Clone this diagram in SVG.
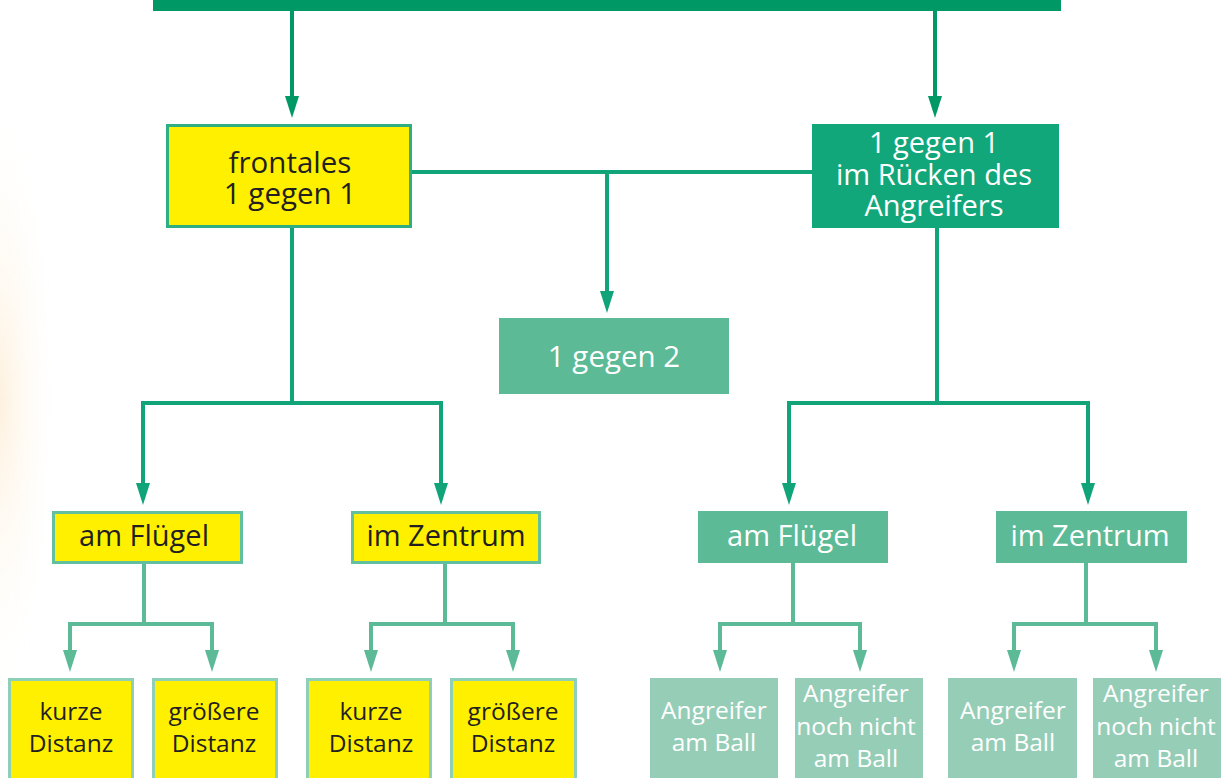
<svg xmlns="http://www.w3.org/2000/svg" width="1226" height="778" viewBox="0 0 1226 778">
<defs>
<style>
.t{font-family:"Open Sans","Noto Sans",sans-serif;text-anchor:middle}
.dk{fill:#231f20}
.wh{fill:#ffffff}
.c1{fill:none;stroke:#12a479;stroke-width:4}
.c2{fill:none;stroke:#5dba97;stroke-width:4}
.y1{fill:#fff000;stroke:#2fae83;stroke-width:3}
.y2{fill:#fff000;stroke:#63c09e;stroke-width:3}
.y3{fill:#fff000;stroke:#8fcfb8;stroke-width:3}
</style>
<marker id="a1" markerUnits="userSpaceOnUse" markerWidth="24" markerHeight="14" refX="0" refY="7" orient="auto" viewBox="0 0 24 14"><path d="M0,0 L22,7 L0,14 z" fill="#12a479"/></marker>
<marker id="a0" markerUnits="userSpaceOnUse" markerWidth="24" markerHeight="14" refX="0" refY="7" orient="auto" viewBox="0 0 24 14"><path d="M0,0 L22,7 L0,14 z" fill="#009966"/></marker>
<marker id="a2" markerUnits="userSpaceOnUse" markerWidth="24" markerHeight="14" refX="0" refY="7" orient="auto" viewBox="0 0 24 14"><path d="M0,0 L22,7 L0,14 z" fill="#5dba97"/></marker>
<radialGradient id="glow" cx="0" cy="0.5" r="0.5">
<stop offset="0" stop-color="#fde6c4" stop-opacity="0.55"/>
<stop offset="1" stop-color="#ffffff" stop-opacity="0"/>
</radialGradient>
</defs>
<rect width="1226" height="778" fill="#ffffff"/>
<rect x="0" y="80" width="120" height="640" fill="url(#glow)"/>
<rect x="153" y="0" width="908" height="11" fill="#009966"/>
<g id="connectors">
<path class="c1" style="stroke:#009966" d="M292,11 V96" marker-end="url(#a0)"/>
<path class="c1" style="stroke:#009966" d="M935,11 V96" marker-end="url(#a0)"/>
<path class="c1" d="M411,172 H812"/>
<path class="c1" d="M607,172 V291" marker-end="url(#a1)"/>
<path class="c1" d="M292,227 V403"/>
<path class="c1" d="M141,403 H443"/>
<path class="c1" d="M143,401 V483" marker-end="url(#a1)"/>
<path class="c1" d="M441,401 V483" marker-end="url(#a1)"/>
<path class="c1" d="M937,228 V403"/>
<path class="c1" d="M787,403 H1090"/>
<path class="c1" d="M789,401 V483" marker-end="url(#a1)"/>
<path class="c1" d="M1088,401 V483" marker-end="url(#a1)"/>
<path class="c2" d="M144,563 V624"/>
<path class="c2" d="M68,624 H214"/>
<path class="c2" d="M70,622 V650" marker-end="url(#a2)"/>
<path class="c2" d="M212,622 V650" marker-end="url(#a2)"/>
<path class="c2" d="M445,563 V624"/>
<path class="c2" d="M369,624 H515"/>
<path class="c2" d="M371,622 V650" marker-end="url(#a2)"/>
<path class="c2" d="M513,622 V650" marker-end="url(#a2)"/>
<path class="c2" d="M793,563 V624"/>
<path class="c2" d="M718,624 H862"/>
<path class="c2" d="M720,622 V650" marker-end="url(#a2)"/>
<path class="c2" d="M860,622 V650" marker-end="url(#a2)"/>
<path class="c2" d="M1086,563 V624"/>
<path class="c2" d="M1012,624 H1158"/>
<path class="c2" d="M1014,622 V650" marker-end="url(#a2)"/>
<path class="c2" d="M1156,622 V650" marker-end="url(#a2)"/>
</g>
<g id="frontales">
<rect class="y1" x="167.5" y="125.5" width="243" height="101"/>
<text class="t dk" font-size="29.5" x="290" y="173">frontales</text>
<text class="t dk" font-size="29.5" x="290" y="204">1 gegen 1</text>
</g>
<g id="ruecken">
<rect x="812" y="124" width="247" height="104" fill="#12a77b"/>
<text class="t wh" font-size="29" x="934" y="153">1 gegen 1</text>
<text class="t wh" font-size="29" x="934" y="185">im Rücken des</text>
<text class="t wh" font-size="29" x="934" y="216">Angreifers</text>
</g>
<g id="gegen2">
<rect x="499" y="318" width="230" height="76" fill="#5cba96"/>
<text class="t wh" font-size="29.5" x="614" y="367">1 gegen 2</text>
</g>
<g id="fluegel-l">
<rect class="y2" x="53.5" y="512.5" width="188" height="50"/>
<text class="t dk" font-size="29" x="144" y="546">am Flügel</text>
</g>
<g id="zentrum-l">
<rect class="y2" x="352.5" y="512.5" width="187" height="50"/>
<text class="t dk" font-size="29" x="446" y="546">im Zentrum</text>
</g>
<g id="fluegel-r">
<rect x="698" y="511" width="190" height="52" fill="#5cba96"/>
<text class="t wh" font-size="29" x="792" y="546">am Flügel</text>
</g>
<g id="zentrum-r">
<rect x="996" y="511" width="191" height="52" fill="#5cba96"/>
<text class="t wh" font-size="29" x="1090" y="546">im Zentrum</text>
</g>
<g id="kurze1">
<rect class="y3" x="9.5" y="679.5" width="123" height="100"/>
<text class="t dk" font-size="24.5" x="71" y="720">kurze</text>
<text class="t dk" font-size="24.5" x="71" y="752">Distanz</text>
</g>
<g id="groessere1">
<rect class="y3" x="153.5" y="679.5" width="123" height="100"/>
<text class="t dk" font-size="24.5" x="214" y="720">größere</text>
<text class="t dk" font-size="24.5" x="214" y="752">Distanz</text>
</g>
<g id="kurze2">
<rect class="y3" x="307.5" y="679.5" width="123" height="100"/>
<text class="t dk" font-size="24.5" x="371" y="720">kurze</text>
<text class="t dk" font-size="24.5" x="371" y="752">Distanz</text>
</g>
<g id="groessere2">
<rect class="y3" x="451.5" y="679.5" width="124" height="100"/>
<text class="t dk" font-size="24.5" x="513" y="720">größere</text>
<text class="t dk" font-size="24.5" x="513" y="752">Distanz</text>
</g>
<g id="amball1">
<rect x="650" y="678" width="128" height="100" fill="#96cdb7"/>
<text class="t wh" font-size="24.5" x="714" y="719">Angreifer</text>
<text class="t wh" font-size="24.5" x="714" y="751">am Ball</text>
</g>
<g id="nichtball1">
<rect x="795" y="678" width="128" height="100" fill="#96cdb7"/>
<text class="t wh" font-size="24.5" x="856" y="702">Angreifer</text>
<text class="t wh" font-size="24.5" x="856" y="735">noch nicht</text>
<text class="t wh" font-size="24.5" x="856" y="767">am Ball</text>
</g>
<g id="amball2">
<rect x="948" y="678" width="129" height="100" fill="#96cdb7"/>
<text class="t wh" font-size="24.5" x="1013" y="719">Angreifer</text>
<text class="t wh" font-size="24.5" x="1013" y="751">am Ball</text>
</g>
<g id="nichtball2">
<rect x="1093" y="678" width="128" height="100" fill="#96cdb7"/>
<text class="t wh" font-size="24.5" x="1156" y="702">Angreifer</text>
<text class="t wh" font-size="24.5" x="1156" y="735">noch nicht</text>
<text class="t wh" font-size="24.5" x="1156" y="767">am Ball</text>
</g>
</svg>
